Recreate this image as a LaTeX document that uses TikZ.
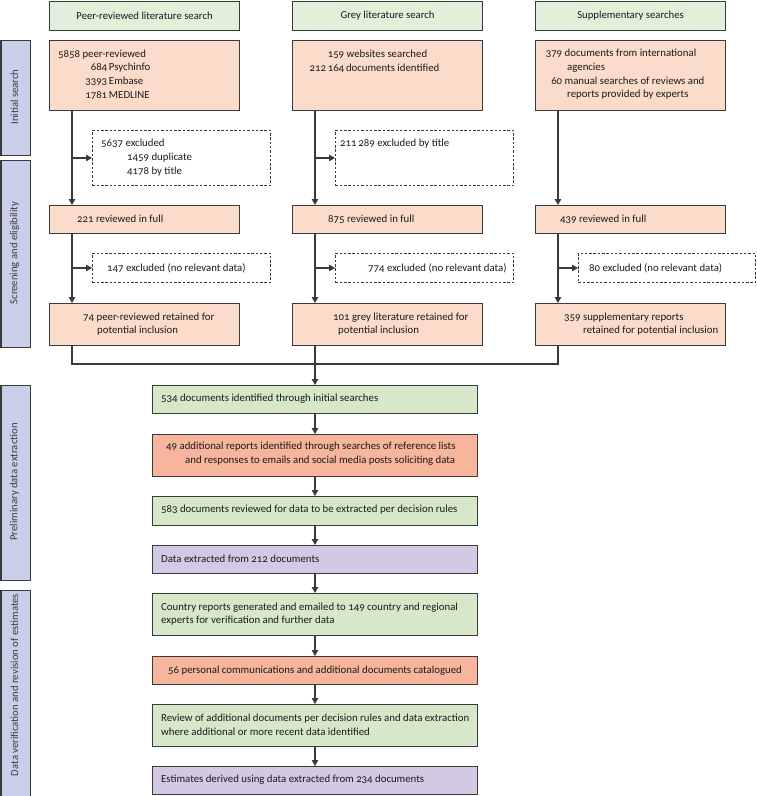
\documentclass[tikz,border=0pt]{standalone}
\usepackage{fontspec}
\setmainfont{Carlito}[Numbers=OldStyle]
\usetikzlibrary{arrows.meta}
\definecolor{hdrgreen}{HTML}{E2EFDA}
\definecolor{peach}{HTML}{FBDCCB}
\definecolor{midgreen}{HTML}{D6E8C9}
\definecolor{salmon}{HTML}{F7B59D}
\definecolor{lilac}{HTML}{D4C9E4}
\definecolor{sideblue}{HTML}{C9CFE9}
\definecolor{linec}{HTML}{3A3A3A}
\definecolor{textc}{HTML}{1A1A1A}
\begin{document}
\begin{tikzpicture}[x=1pt,y=-1pt,
  box/.style={draw=linec, line width=1.1pt, anchor=north west, inner sep=0pt, text=textc, font=\fontsize{10.7}{13.7}\selectfont},
  dbox/.style={draw=linec, line width=0.9pt, dash pattern=on 2.5pt off 1.8pt, anchor=north west, inner sep=0pt},
  sidebox/.style={draw=linec, line width=1.1pt, fill=sideblue, anchor=north west, inner sep=0pt, minimum width=29pt},
  sidetxt/.style={rotate=90, text=textc!85, font=\fontsize{10.7}{12}\selectfont, inner sep=0pt},
  txt/.style={anchor=west, inner sep=0pt, align=left, text=textc, font=\fontsize{10.8}{13.7}\selectfont},
  conn/.style={draw=linec, line width=1.1pt},
  arr/.style={draw=linec, line width=1.1pt, -{Triangle[width=6.5pt,length=6pt]}}]
\useasboundingbox (0,0) rectangle (757,796);

% column coordinates
\coordinate (xa) at (72,0);
\coordinate (xb) at (315,0);
\coordinate (xc) at (558,0);
\coordinate (jn) at (0,364);

% side labels
\node[sidebox, minimum height=115pt] (L1) at (0.5,40) {};
\node[sidebox, minimum height=187pt] (L2) at (0.5,160) {};
\node[sidebox, minimum height=195pt] (L3) at (0.5,385) {};
\node[sidebox, minimum height=212pt] (L4) at (0.5,590) {};
\node[sidetxt] (L1t) at (14.5,97) {Initial search};
\node[sidetxt] (L2t) at (14.5,253) {Screening and eligibility};
\node[sidetxt] (L3t) at (14.5,482) {Preliminary data extraction};
\node[sidetxt] (L4t) at (14.5,685) {Data verification and revision of estimates};

% headers
\node[box, fill=hdrgreen, minimum width=190pt, minimum height=29pt] (h1) at (49,0.5) {Peer-reviewed literature search};
\node[box, fill=hdrgreen, minimum width=190pt, minimum height=29pt] (h2) at (292,0.5) {Grey literature search};
\node[box, fill=hdrgreen, minimum width=190pt, minimum height=29pt] (h3) at (535,0.5) {Supplementary searches};

% initial search boxes
\node[box, fill=peach, minimum width=190pt, minimum height=70pt] (p1) at (49,40) {};
\node[box, fill=peach, minimum width=190pt, minimum height=70pt] (g1) at (292,40) {};
\node[box, fill=peach, minimum width=190pt, minimum height=70pt] (s1) at (535,40) {};
\node[txt] (p1t) at (58,74.5) {5858 peer-reviewed\\
\makebox[49pt][r]{684}\,Psychinfo\\
\makebox[49pt][r]{3393}\,Embase\\
\makebox[49pt][r]{1781}\,MEDLINE};
\node[txt] (g1t) at (295,61) {\makebox[49pt][r]{159} websites searched\\
\makebox[49pt][r]{212\,164}\,documents identified};
\node[txt] (s1t) at (544,74.5) {\makebox[18pt][r]{379} documents from international\\
\makebox[18pt][r]{}\hspace{5pt}agencies\\
\makebox[18pt][r]{60} manual searches of reviews and\\
\makebox[18pt][r]{}\hspace{5pt}reports provided by experts};

% first exclusions
\node[dbox, minimum width=178pt, minimum height=55pt] (e1) at (92,130) {};
\node[dbox, minimum width=178pt, minimum height=55pt] (e2) at (335,130) {};
\node[txt] (e1t) at (101,157.5) {5637 excluded\\
\hspace*{26pt}1459 duplicate\\
\hspace*{26pt}4178 by title};
\node[txt] (e2t) at (340,144) {211\,289 excluded by title};

% reviewed in full
\node[box, fill=peach, minimum width=190pt, minimum height=28pt] (p2) at (49,205) {};
\node[box, fill=peach, minimum width=190pt, minimum height=28pt] (g2) at (292,205) {};
\node[box, fill=peach, minimum width=190pt, minimum height=28pt] (s2) at (535,205) {};
\node[txt] (p2t) at (77,219) {221 reviewed in full};
\node[txt] (g2t) at (328,219) {875 reviewed in full};
\node[txt] (s2t) at (560,219) {439 reviewed in full};

% second exclusions
\node[dbox, minimum width=178pt, minimum height=29pt] (f1) at (92,253) {};
\node[dbox, minimum width=178pt, minimum height=29pt] (f2) at (335,253) {};
\node[dbox, minimum width=177pt, minimum height=29pt] (f3) at (578,253) {};
\node[txt] (f1t) at (107,268) {147 excluded (no relevant data)};
\node[txt] (f2t) at (368,268) {774 excluded (no relevant data)};
\node[txt] (f3t) at (589,268) {80 excluded (no relevant data)};

% retained
\node[box, fill=peach, minimum width=190pt, minimum height=42pt] (p3) at (49,303) {};
\node[box, fill=peach, minimum width=190pt, minimum height=42pt] (g3) at (292,303) {};
\node[box, fill=peach, minimum width=190pt, minimum height=42pt] (s3) at (535,303) {};
\node[txt] (p3t) at (83,324) {74 peer-reviewed retained for\\\hspace*{14pt}potential inclusion};
\node[txt] (g3t) at (333,324) {101 grey literature retained for\\\hspace*{5pt}potential inclusion};
\node[txt] (s3t) at (564,324) {359 supplementary reports\\\hspace*{19pt}retained for potential inclusion};

% central chain
\node[box, fill=midgreen, minimum width=325pt, minimum height=28pt] (m1) at (152,385) {};
\node[box, fill=salmon, minimum width=325pt, minimum height=42pt] (m2) at (152,434) {};
\node[box, fill=midgreen, minimum width=325pt, minimum height=29pt] (m3) at (152,496) {};
\node[box, fill=lilac, minimum width=325pt, minimum height=28pt] (m4) at (152,545) {};
\node[box, fill=midgreen, minimum width=325pt, minimum height=42pt] (m5) at (152,593) {};
\node[box, fill=salmon, minimum width=325pt, minimum height=28pt, font=\fontsize{10.8}{13.7}\selectfont] (m6) at (152,656) {56 personal communications and additional documents catalogued};
\node[box, fill=midgreen, minimum width=325pt, minimum height=42pt] (m7) at (152,704) {};
\node[box, fill=lilac, minimum width=325pt, minimum height=28pt] (m8) at (152,766) {};
\node[txt] (m1t) at (161,399) {534 documents identified through initial searches};
\node[txt] (m2t) at (166,454) {49 additional reports identified through searches of reference lists\\\hspace*{19pt}and responses to emails and social media posts soliciting data};
\node[txt] (m3t) at (161,510) {583 documents reviewed for data to be extracted per decision rules};
\node[txt] (m4t) at (161,559) {Data extracted from 212 documents};
\node[txt] (m5t) at (161,614) {Country reports generated and emailed to 149 country and regional\\experts for verification and further data};
\node[txt] (m7t) at (161,725) {Review of additional documents per decision rules and data extraction\\where additional or more recent data identified};
\node[txt] (m8t) at (161,780) {Estimates derived using data extracted from 234 documents};

% connectors: columns
\draw[arr] (p1.south -| xa) -- (p2.north -| xa);
\draw[arr] (g1.south -| xb) -- (g2.north -| xb);
\draw[arr] (s1.south -| xc) -- (s2.north -| xc);
\draw[arr] (e1.west -| xa) -- (e1.west);
\draw[arr] (e2.west -| xb) -- (e2.west);
\draw[arr] (p2.south -| xa) -- (p3.north -| xa);
\draw[arr] (g2.south -| xb) -- (g3.north -| xb);
\draw[arr] (s2.south -| xc) -- (s3.north -| xc);
\draw[arr] (f1.west -| xa) -- (f1.west);
\draw[arr] (f2.west -| xb) -- (f2.west);
\draw[arr] (f3.west -| xc) -- (f3.west);
% join
\draw[conn] (p3.south -| xa) -- (jn -| xa) -- (jn -| xc) -- (s3.south -| xc);
\draw[arr] (g3.south -| xb) -- (m1.north -| xb);
% central chain
\draw[arr] (m1.south -| xb) -- (m2.north -| xb);
\draw[arr] (m2.south -| xb) -- (m3.north -| xb);
\draw[arr] (m3.south -| xb) -- (m4.north -| xb);
\draw[arr] (m4.south -| xb) -- (m5.north -| xb);
\draw[arr] (m5.south -| xb) -- (m6.north -| xb);
\draw[arr] (m6.south -| xb) -- (m7.north -| xb);
\draw[arr] (m7.south -| xb) -- (m8.north -| xb);
\end{tikzpicture}
\end{document}
